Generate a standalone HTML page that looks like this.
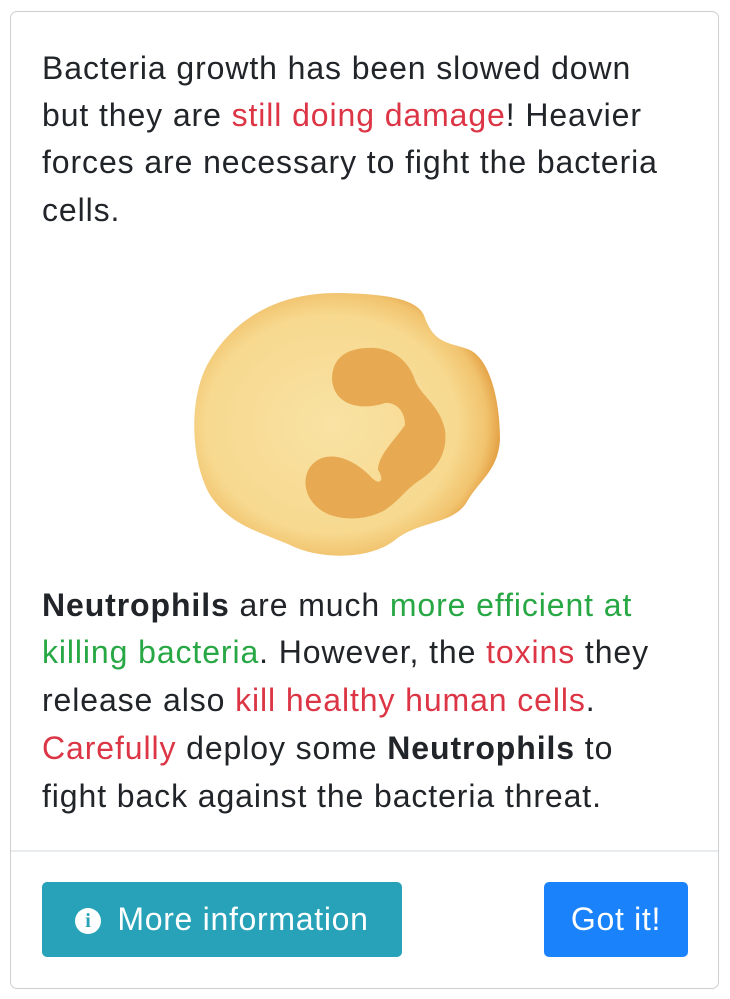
<!DOCTYPE html>
<html><head><meta charset="utf-8"><style>
body{margin:0;width:730px;height:999px;background:#fff;font-family:"Liberation Sans",sans-serif;color:#212529;overflow:hidden}
.card{position:absolute;left:10px;top:11px;width:707px;height:976px;border:1.5px solid #cfcfcf;border-radius:7px}
.ln{position:absolute;left:42px;font-size:32px;letter-spacing:0.9px;white-space:nowrap;line-height:36px}
.r{color:#dc3545}.g{color:#28a745}b{font-weight:bold}
.div{position:absolute;left:11px;width:707px;top:850px;height:2px;background:#e9ecef}
.btn{position:absolute;top:882px;height:75px;border-radius:5px;color:#fff;font-size:32px;letter-spacing:0.7px;line-height:75px;text-align:center}
</style></head><body>
<div class="card"></div>
<div>
<div class="ln" style="top:50px">Bacteria growth has been slowed down</div>
<div class="ln" style="top:97px">but they are <span class="r">still doing damage</span>! Heavier</div>
<div class="ln" style="top:144px">forces are necessary to fight the bacteria</div>
<div class="ln" style="top:192px">cells.</div>
</div>
<svg style="position:absolute;left:0;top:0" width="730" height="999">
<defs><radialGradient id="cg" cx="0.45" cy="0.5" r="0.55"><stop offset="0" stop-color="#f9e2a4"/><stop offset="0.75" stop-color="#f7d98f"/><stop offset="0.92" stop-color="#f1c36e"/><stop offset="1" stop-color="#e5a347"/></radialGradient></defs>
<path d="M210,360 C240,310 290,292 340,293 C390,294 420,300 425,318 C435,345 450,342 470,350 C490,360 500,400 500,440 C498,470 480,480 468,500 C455,525 420,520 395,540 C370,560 320,560 290,545 C255,530 230,525 210,495 C190,460 188,395 210,360Z" fill="url(#cg)"/>
<path d="M332,380 C332,355 350,347 375,348 C398,350 410,365 415,380 C420,395 440,405 445,430 C448,455 435,470 420,480 C405,490 400,500 385,510 C365,522 330,522 315,505 C300,490 303,465 322,458 C340,452 360,465 372,478 C380,486 385,480 378,470 C378,455 395,440 405,425 C405,410 395,402 385,403 C365,410 335,408 332,380Z" fill="#e7aa52"/>
</svg>
<div>
<div class="ln" style="top:587px"><b>Neutrophils</b> are much <span class="g">more efficient at</span></div>
<div class="ln" style="top:634px"><span class="g">killing bacteria</span>. However, the <span class="r">toxins</span> they</div>
<div class="ln" style="top:682px">release also <span class="r">kill healthy human cells</span>.</div>
<div class="ln" style="top:730px"><span class="r">Carefully</span> deploy some <b>Neutrophils</b> to</div>
<div class="ln" style="top:778px">fight back against the bacteria threat.</div>
</div>
<div class="div"></div>
<div class="btn" style="left:42px;width:360px;background:#27a2b8"><span style="display:inline-block;width:26px;height:26px;border-radius:50%;background:#fff;color:#27a2b8;font-size:20px;line-height:26px;font-weight:bold;vertical-align:3px;margin-right:16px;font-family:'Liberation Serif',serif">i</span>More information</div>
<div class="btn" style="left:544px;width:144px;background:#1a82fb">Got it!</div>
</body></html>
